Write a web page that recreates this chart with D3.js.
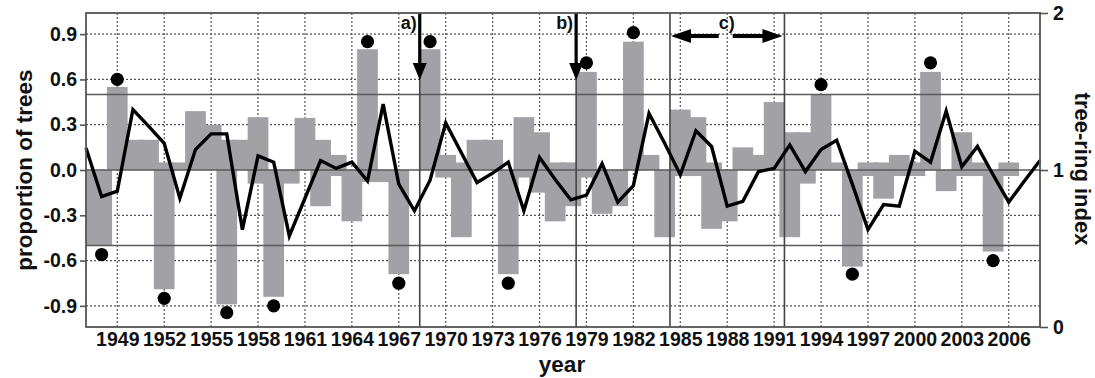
<!DOCTYPE html>
<html>
<head>
<meta charset="utf-8">
<script src="https://cdnjs.cloudflare.com/ajax/libs/d3/7.8.5/d3.min.js"></script>
<style>
	body { margin: 0; background: #fff; }
	svg { display: block; font-family: "Liberation Sans", Arial, sans-serif; font-weight: bold; }
</style>
</head>
<body>
<svg id="chart" width="1095" height="378"></svg>
<script>
/* global d3 */

//* DATA
var years = [1947, 1948, 1949, 1950, 1951, 1952, 1953, 1954, 1955, 1956,
	1957, 1958, 1959, 1960, 1961, 1962, 1963, 1964, 1965, 1966,
	1967, 1968, 1969, 1970, 1971, 1972, 1973, 1974, 1975, 1976,
	1977, 1978, 1979, 1980, 1981, 1982, 1983, 1984, 1985, 1986,
	1987, 1988, 1989, 1990, 1991, 1992, 1993, 1994, 1995, 1996,
	1997, 1998, 1999, 2000, 2001, 2002, 2003, 2004, 2005, 2006,
	2007, 2008];

// proportion of trees with a positive reaction
var positive = [0, 0, 0.55, 0.2, 0.2, 0.05, 0.05, 0.39, 0.3, 0.2,
	0.2, 0.35, 0, 0, 0.345, 0.2, 0.1, 0, 0.8, 0,
	0, 0, 0.8, 0.1, 0.05, 0.2, 0.2, 0, 0.35, 0.25,
	0.05, 0.05, 0.65, 0, 0, 0.85, 0.1, 0, 0.4, 0.35,
	0.05, 0, 0.15, 0.1, 0.45, 0.25, 0.25, 0.5, 0.05, 0,
	0.05, 0.05, 0.1, 0.05, 0.65, 0, 0.25, 0.05, 0, 0.05,
	0, 0];

// proportion of trees with a negative reaction
var negative = [-0.5, -0.5, 0, 0, 0, -0.79, 0, 0, 0, -0.89,
	0, -0.09, -0.84, -0.09, 0, -0.24, -0.04, -0.34, -0.08, -0.08,
	-0.69, 0, 0, -0.05, -0.445, 0, 0, -0.69, -0.05, -0.15,
	-0.34, -0.24, -0.05, -0.29, -0.24, 0, 0, -0.445, -0.04, -0.04,
	-0.39, -0.34, 0, 0, 0, -0.445, -0.09, 0, 0, -0.64,
	-0.04, -0.19, -0.04, -0.04, 0, -0.14, -0.04, -0.04, -0.54, -0.04,
	0, 0];

// tree-ring index (right axis)
var ringIndex = [1.14, 0.83, 0.865, 1.385, 1.28, 1.17, 0.82, 1.13, 1.23, 1.23,
	0.62, 1.09, 1.05, 0.58, 0.82, 1.06, 1.01, 1.05, 0.93, 1.42,
	0.91, 0.74, 0.935, 1.30, 1.11, 0.92, 0.98, 1.05, 0.74, 1.08,
	0.94, 0.81, 0.84, 1.04, 0.795, 0.90, 1.36, 1.17, 0.97, 1.25,
	1.15, 0.77, 0.80, 0.99, 1.01, 1.16, 0.99, 1.13, 1.19, 0.91,
	0.62, 0.78, 0.77, 1.12, 1.05, 1.375, 1.02, 1.15, 0.97, 0.795,
	0.93, 1.06];

// pointer years (black dots)
var dotYears = [1948, 1949, 1952, 1956, 1959, 1965, 1967, 1969, 1974, 1979, 1982, 1994, 1996, 2001, 2005];
var dotValues = [-0.56, 0.60, -0.85, -0.945, -0.90, 0.85, -0.75, 0.85, -0.75, 0.71, 0.91, 0.565, -0.69, 0.71, -0.60];

// marked events
var arrowYears = [1968.34, 1978.34];
var arrowLabels = ["a)", "b)"];
var periodYears = [1984.34, 1991.66];
var periodLabel = "c)";

//* TICKS
var yearTicks = [1949, 1952, 1955, 1958, 1961, 1964, 1967, 1970, 1973, 1976,
	1979, 1982, 1985, 1988, 1991, 1994, 1997, 2000, 2003, 2006];
var leftTicks = [-0.9, -0.6, -0.3, 0, 0.3, 0.6, 0.9];
var rightTicks = [0, 1, 2];
var refLines = [-0.5, 0, 0.5];

//* LAYOUT
var L = 86, R = 1040, T = 13, B = 327;
var BAR_YEARS = 1.325;

var svg = d3.select('#chart');

var x = d3.scaleLinear().domain([1947, 2008]).range([L, R]);
var yL = d3.scaleLinear().domain([-1.04, 1.04]).range([B, T]);
var yR = d3.scaleLinear().domain([0, 2]).range([B, T]);

svg.append('defs').append('clipPath')
	.attr('id', 'plotClip')
	.append('rect')
		.attr('x', L).attr('y', T)
		.attr('width', R - L).attr('height', B - T);

//* GRID (dotted)
var grid = svg.append('g').attr('class', 'grid');

grid.selectAll('line.gx').data(yearTicks).enter().append('line')
	.attr('class', 'gx')
	.attr('x1', function(d){ return x(d); })
	.attr('x2', function(d){ return x(d); })
	.attr('y1', T).attr('y2', B)
	.attr('stroke', '#555')
	.attr('stroke-width', 1.2)
	.attr('stroke-dasharray', '2,2');

grid.selectAll('line.gy').data(leftTicks.filter(function(d){ return d !== 0; })).enter().append('line')
	.attr('class', 'gy')
	.attr('x1', L).attr('x2', R)
	.attr('y1', function(d){ return yL(d); })
	.attr('y2', function(d){ return yL(d); })
	.attr('stroke', '#555')
	.attr('stroke-width', 1.2)
	.attr('stroke-dasharray', '2,2');

//* BARS
var bw = x(1947 + BAR_YEARS) - x(1947);
var bars = svg.append('g').attr('clip-path', 'url(#plotClip)');

var rows = years.map(function(yr, i){ return { year: yr, pos: positive[i], neg: negative[i], idx: ringIndex[i] }; });

bars.selectAll('rect.pos').data(rows.filter(function(d){ return d.pos > 0; })).enter().append('rect')
	.attr('class', 'pos')
	.attr('x', function(d){ return x(d.year) - bw / 2; })
	.attr('width', bw)
	.attr('y', function(d){ return yL(d.pos); })
	.attr('height', function(d){ return yL(0) - yL(d.pos); })
	.attr('fill', '#a2a2a6');

bars.selectAll('rect.neg').data(rows.filter(function(d){ return d.neg < 0; })).enter().append('rect')
	.attr('class', 'neg')
	.attr('x', function(d){ return x(d.year) - bw / 2; })
	.attr('width', bw)
	.attr('y', yL(0))
	.attr('height', function(d){ return yL(d.neg) - yL(0); })
	.attr('fill', '#a2a2a6');

//* SOLID REFERENCE LINES
svg.append('g').selectAll('line').data(refLines).enter().append('line')
	.attr('x1', L).attr('x2', R)
	.attr('y1', function(d){ return yL(d); })
	.attr('y2', function(d){ return yL(d); })
	.attr('stroke', '#5a5a5a')
	.attr('stroke-width', 1.6);

var eventYears = arrowYears.concat(periodYears);
svg.append('g').selectAll('line').data(eventYears).enter().append('line')
	.attr('x1', function(d){ return x(d); })
	.attr('x2', function(d){ return x(d); })
	.attr('y1', T).attr('y2', B)
	.attr('stroke', '#444')
	.attr('stroke-width', 1.6);

//* TREE-RING INDEX LINE
var line = d3.line()
	.x(function(d){ return x(d.year); })
	.y(function(d){ return yR(d.idx); });

svg.append('path')
	.datum(rows)
	.attr('d', line)
	.attr('fill', 'none')
	.attr('stroke', '#000')
	.attr('stroke-width', 3.4)
	.attr('stroke-linejoin', 'miter');

//* DOTS
svg.append('g').selectAll('circle').data(dotYears).enter().append('circle')
	.attr('cx', function(d){ return x(d); })
	.attr('cy', function(d, i){ return yL(dotValues[i]); })
	.attr('r', 6.6)
	.attr('fill', '#000');

//* ARROWS a) b)
var arrows = svg.append('g');
arrowYears.forEach(function(yr, i){
	var ax = x(yr);
	arrows.append('line')
		.attr('x1', ax).attr('x2', ax)
		.attr('y1', T).attr('y2', 66)
		.attr('stroke', '#000')
		.attr('stroke-width', 3.2);
	arrows.append('path')
		.attr('d', 'M' + (ax - 7) + ',63L' + (ax + 7) + ',63L' + ax + ',80Z')
		.attr('fill', '#000');
	arrows.append('text')
		.attr('x', ax - 3)
		.attr('y', 29)
		.attr('font-size', 18)
		.style('text-anchor', 'end')
		.style('fill', '#111')
		.text(arrowLabels[i]);
});

//* PERIOD c)
var cx0 = x(periodYears[0]) + 1, cx1 = x(periodYears[1]) - 2;
var cmid = (cx0 + cx1) / 2, cy = 36;
arrows.append('line')
	.attr('x1', cx0 + 16).attr('x2', cmid - 8)
	.attr('y1', cy).attr('y2', cy)
	.attr('stroke', '#000').attr('stroke-width', 4);
arrows.append('line')
	.attr('x1', cmid + 6).attr('x2', cx1 - 16)
	.attr('y1', cy).attr('y2', cy)
	.attr('stroke', '#000').attr('stroke-width', 4);
arrows.append('path')
	.attr('d', 'M' + cx0 + ',' + cy + 'L' + (cx0 + 20) + ',' + (cy - 7) + 'L' + (cx0 + 20) + ',' + (cy + 7) + 'Z')
	.attr('fill', '#000');
arrows.append('path')
	.attr('d', 'M' + cx1 + ',' + cy + 'L' + (cx1 - 20) + ',' + (cy - 7) + 'L' + (cx1 - 20) + ',' + (cy + 7) + 'Z')
	.attr('fill', '#000');
arrows.append('text')
	.attr('x', cmid)
	.attr('y', 29)
	.attr('font-size', 18)
	.style('text-anchor', 'middle')
	.style('fill', '#111')
	.text(periodLabel);

//* FRAME
svg.append('rect')
	.attr('x', L).attr('y', T)
	.attr('width', R - L).attr('height', B - T)
	.attr('fill', 'none')
	.attr('stroke', '#555')
	.attr('stroke-width', 1.8);

//* AXES
var axisLeft = svg.append('g')
	.attr('transform', 'translate(' + L + ',0)')
	.call(d3.axisLeft(yL).tickValues(leftTicks).tickSize(6).tickPadding(3)
		.tickFormat(function(d){ return d.toFixed(1); }));

var axisRight = svg.append('g')
	.attr('transform', 'translate(' + R + ',0)')
	.call(d3.axisRight(yR).tickValues(rightTicks).tickSize(8).tickPadding(5)
		.tickFormat(function(d){ return d; }));

var axisBottom = svg.append('g')
	.attr('transform', 'translate(0,' + B + ')')
	.call(d3.axisBottom(x).tickValues(yearTicks).tickSize(0).tickPadding(5)
		.tickFormat(function(d){ return d; }));

[axisLeft, axisRight, axisBottom].forEach(function(a){
	a.select('.domain').remove();
	a.selectAll('.tick line').attr('stroke', '#555').attr('stroke-width', 1.6);
	a.selectAll('.tick text')
		.attr('font-family', '"Liberation Sans", Arial, sans-serif')
		.attr('font-weight', 'bold')
		.attr('font-size', 19.5)
		.style('fill', '#111');
});

//* AXIS TITLES
svg.append('text')
	.attr('transform', 'translate(32,170) rotate(-90)')
	.attr('font-size', 22.5)
	.style('text-anchor', 'middle')
	.style('fill', '#111')
	.text('proportion of trees');

svg.append('text')
	.attr('transform', 'translate(1075,169) rotate(90)')
	.attr('font-size', 22)
	.style('text-anchor', 'middle')
	.style('fill', '#111')
	.text('tree-ring index');

svg.append('text')
	.attr('x', 562)
	.attr('y', 372)
	.attr('font-size', 22.5)
	.style('text-anchor', 'middle')
	.style('fill', '#111')
	.text('year');
</script>
</body>
</html>
